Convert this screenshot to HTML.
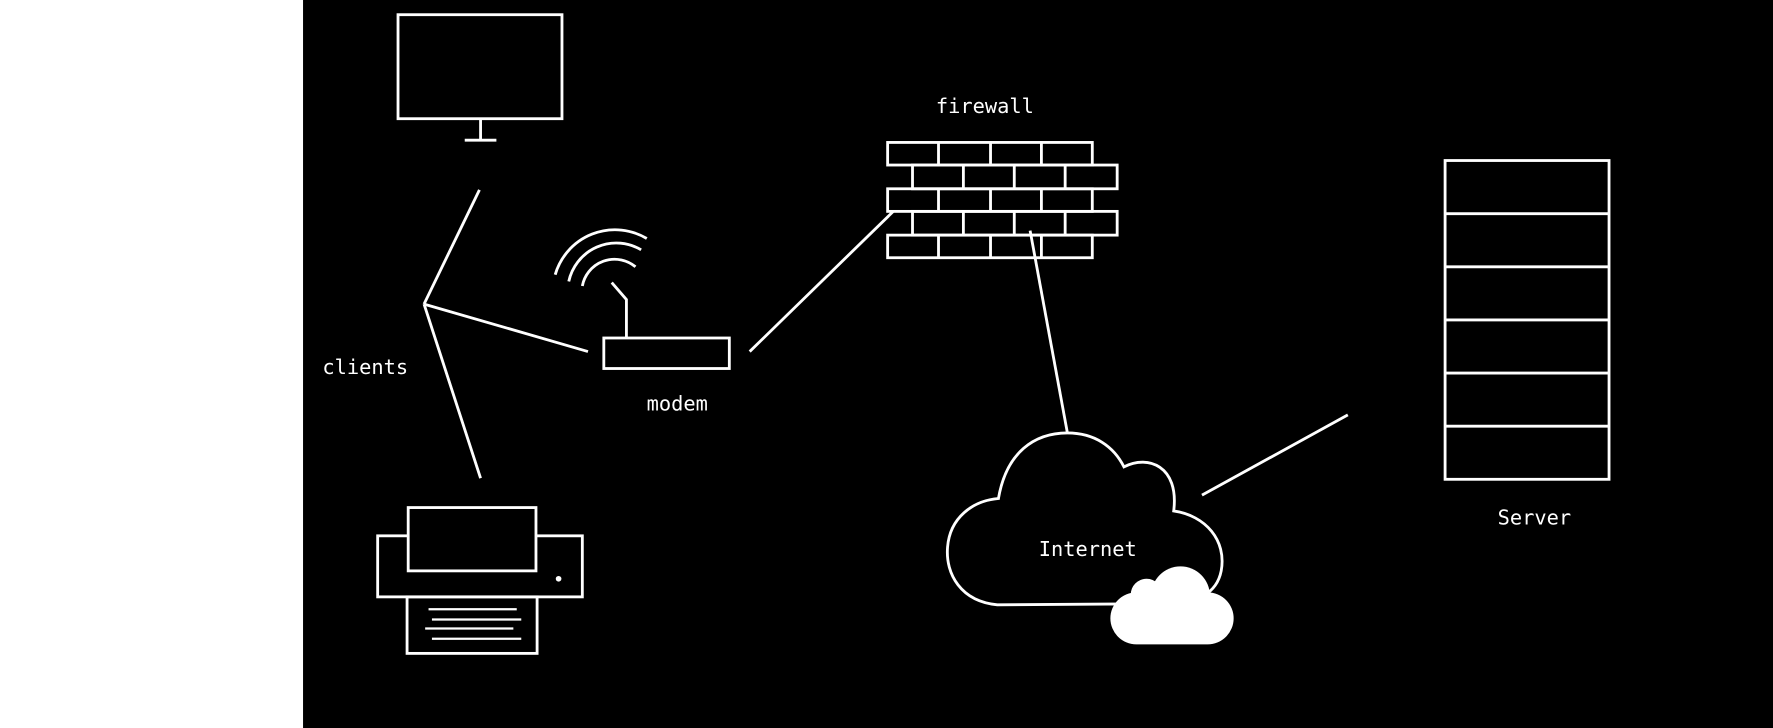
<!DOCTYPE html>
<html><head><style>html,body{margin:0;padding:0;background:#fff}svg{display:block}</style></head>
<body>
<svg width="1773" height="728" viewBox="0 0 1568 644" preserveAspectRatio="none" xmlns="http://www.w3.org/2000/svg">
<rect x="0" y="0" width="268" height="644" fill="#fff"/>
<rect x="268" y="0" width="1300" height="644" fill="#000"/>
<g fill="none" stroke="#fff" stroke-width="2.5">
<rect x="352" y="13" width="145" height="92"/>
<line x1="425" y1="105" x2="425" y2="124"/>
<line x1="411" y1="124" x2="439" y2="124"/>
<line x1="424" y1="168" x2="375" y2="269"/>
<line x1="375" y1="269" x2="520" y2="311"/>
<line x1="375" y1="269" x2="425" y2="423"/>
<path d="M491,243 A55,55 0 0 1 572,211"/>
<path d="M503,249 A43,43 0 0 1 567,221"/>
<path d="M515,253 A29,29 0 0 1 562,236"/>
<polyline points="541,250 554,265 554,299"/>
<rect x="534" y="299" width="111" height="27"/>
<line x1="663" y1="311" x2="790" y2="187"/>
<rect x="785" y="126" width="181" height="20"/>
<rect x="807" y="146" width="181" height="21"/>
<rect x="785" y="167" width="181" height="20"/>
<rect x="807" y="187" width="181" height="21"/>
<rect x="785" y="208" width="181" height="20"/>
<path d="M830,126V146M876,126V146M921,126V146M852,146V167M897,146V167M942,146V167M830,167V187M876,167V187M921,167V187M852,187V208M897,187V208M942,187V208M830,208V228M876,208V228M921,208V228"/>
<line x1="911" y1="204" x2="944" y2="383"/>
<path d="M882,535 C850,532 836,508 838,484 C840,458 860,443 883,441 C890,400 915,383 944,383 C968,383 985,395 994,413 C1015,402 1043,412 1038,452 C1066,456 1085,478 1080,505 C1076,525 1060,533 1030,534 L882,535 Z"/>
<line x1="1063" y1="438" x2="1192" y2="367"/>
<rect x="1278" y="142" width="145" height="282"/>
<path d="M1278,189H1423M1278,236H1423M1278,283H1423M1278,330H1423M1278,377H1423"/>
<rect x="334" y="474" width="181" height="54"/>
<rect x="361" y="449" width="113" height="56" fill="#000"/>
<rect x="360" y="528" width="115" height="50"/>
<path d="M379,539H457M382,548H461M376,556H454M382,565H461" stroke-width="2"/>
</g>
<circle cx="494" cy="512" r="2.5" fill="#fff"/>
<g fill="#fff">
<rect x="982" y="524" width="109" height="46" rx="23"/>
<circle cx="1044" cy="527" r="26"/>
<circle cx="1014" cy="526" r="14"/>
</g>
<g fill="#fff" font-family="'DejaVu Sans Mono','Liberation Mono',monospace" font-size="18" text-anchor="middle">
<text x="323" y="331">clients</text>
<text x="599" y="363">modem</text>
<text x="871" y="100">firewall</text>
<text x="962" y="492">Internet</text>
<text x="1357" y="464">Server</text>
</g>
</svg>
</body></html>
